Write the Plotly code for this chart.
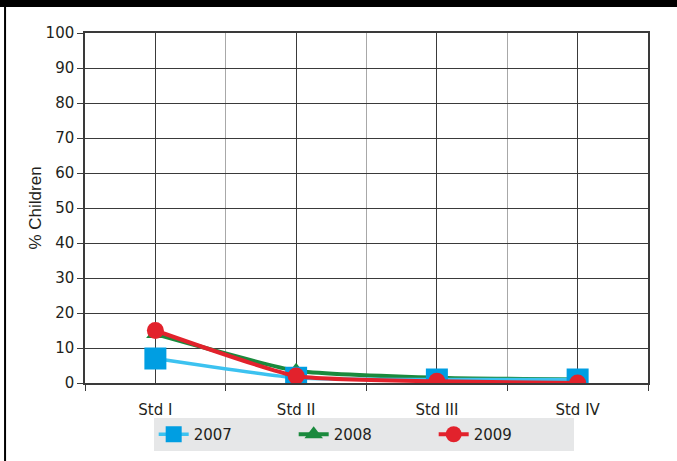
import plotly.graph_objects as go

# standards on the x axis
grades = ["Std I", "Std II", "Std III", "Std IV"]
x_pos = [0, 1, 2, 3]

# % children per year
pct_2007 = [7, 1.5, 1, 1]
pct_2008 = [14, 3.5, 1.5, 1]
pct_2009 = [15, 2, 0.5, 0]

y_ticks = [0, 10, 20, 30, 40, 50, 60, 70, 80, 90, 100]

tick_font = dict(family="DejaVu Sans", size=15, color="#231f20")

fig = go.Figure()

# green first so the blue squares sit on top of its triangles
fig.add_trace(go.Scatter(
    x=x_pos, y=pct_2008, name="2008", mode="lines+markers", legendrank=2,
    line=dict(color="#1a8a3d", width=4, shape="spline", smoothing=0.5),
    marker=dict(symbol="triangle-up", size=16, color="#1a8a3d"),
))
fig.add_trace(go.Scatter(
    x=x_pos, y=pct_2007, name="2007", mode="lines+markers", legendrank=1,
    line=dict(color="#3cc2f0", width=3.5, shape="spline", smoothing=0.5),
    marker=dict(symbol="square", size=22, color="#009ee2"),
))
fig.add_trace(go.Scatter(
    x=x_pos, y=pct_2009, name="2009", mode="lines+markers", legendrank=3,
    line=dict(color="#e2222c", width=4, shape="spline", smoothing=0.5),
    marker=dict(symbol="circle", size=17, color="#e2222c"),
))

fig.update_xaxes(
    range=[-0.5, 3.5],
    tickvals=x_pos, ticktext=grades, ticks="",
    tickfont=tick_font, ticklabelstandoff=12,
    showgrid=True, gridcolor="#3a3a3a", gridwidth=1,
    showline=True, linecolor="#3a3a3a", linewidth=1.5, mirror=True,
    zeroline=False,
    minor=dict(tickvals=[-0.5, 0.5, 1.5, 2.5, 3.5], ticks="outside", ticklen=6,
               tickcolor="#3a3a3a", showgrid=True, gridcolor="#a8a8a8", gridwidth=1),
)
fig.update_yaxes(
    range=[0, 100], tickvals=y_ticks,
    ticks="outside", ticklen=6, tickcolor="#3a3a3a",
    tickfont=tick_font,
    showgrid=True, gridcolor="#3a3a3a", gridwidth=1,
    showline=True, linecolor="#3a3a3a", linewidth=1.5, mirror=True,
    zeroline=False,
    title=dict(text="% Children", font=dict(family="Liberation Sans", size=17, color="#231f20"), standoff=0),
)

# black strip along the top and rule down the left, like the source page
fig.add_shape(type="rect", xref="paper", yref="paper", x0=-0.2, x1=1.1, y0=1.074, y1=1.2,
              fillcolor="black", line_width=0, layer="above")
fig.add_shape(type="line", xref="paper", yref="paper", x0=-0.142, x1=-0.142, y0=-0.3, y1=1.08,
              line=dict(color="black", width=2), layer="above")

fig.update_layout(
    width=677, height=461,
    margin=dict(l=85, r=29, t=33, b=78, autoexpand=False),
    paper_bgcolor="white", plot_bgcolor="white",
    showlegend=True,
    legend=dict(
        orientation="h", x=0.495, xanchor="center", y=-0.1, yanchor="top",
        bgcolor="#e6e7e8", font=dict(family="DejaVu Sans", size=15, color="#231f20"),
        entrywidth=95, traceorder="normal",
    ),
)

# drop the browser's default body margin so the figure sits at the window corner
fig.write_html("out.html", config={"displayModeBar": False},
               post_script="document.body.style.margin='0';")
